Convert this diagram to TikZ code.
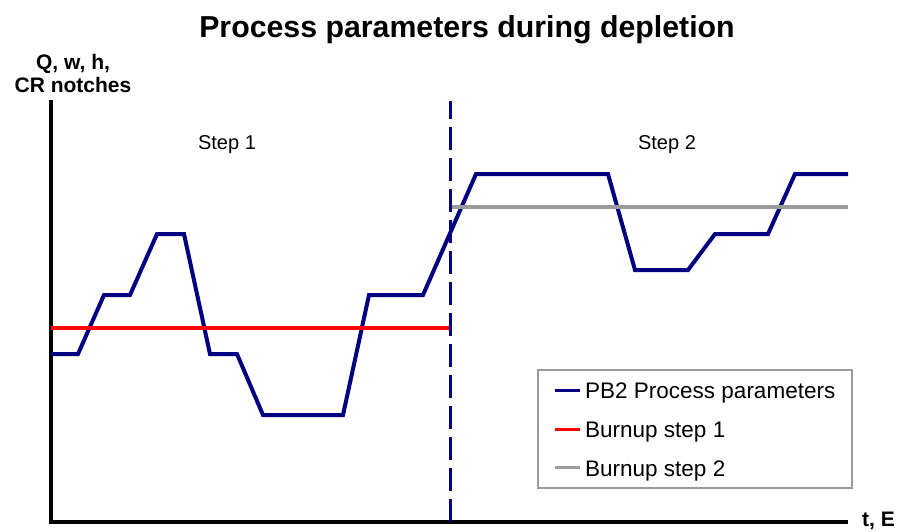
\documentclass[tikz,border=0pt]{standalone}
\usepackage{fontspec}
\setmainfont{Liberation Sans}
\definecolor{pbblue}{RGB}{0,0,128}
\definecolor{bugray}{RGB}{155,155,155}
\tikzset{
  axisline/.style={line width=3.5pt, black},
  paramline/.style={line width=4pt, color=pbblue},
  burnupone/.style={line width=3.5pt, color=red},
  burnuptwo/.style={line width=3.5pt, color=bugray},
  splitline/.style={line width=3pt, color=pbblue, dash pattern=on 23pt off 8pt},
  steplabel/.style={inner sep=0pt, font=\fontsize{20}{24}\selectfont},
  keytext/.style={inner sep=0pt, anchor=base west, font=\fontsize{22.5}{26}\selectfont},
  keyline/.style={line width=3pt}
}

\begin{document}
\begin{tikzpicture}[x=1pt,y=-1pt]
\useasboundingbox (0,0) rectangle (898,531);

% title and axis labels
\node[inner sep=0pt, anchor=base, font=\fontsize{30.3}{36}\selectfont\bfseries] (title) at (467,37) {Process parameters during depletion};
\node[inner sep=0pt, anchor=north, align=center, font=\fontsize{21}{23}\selectfont\bfseries] (ylabel) at (73,54) {Q, w, h,\\CR notches};
\node[inner sep=0pt, anchor=west, font=\fontsize{21}{24}\selectfont\bfseries] (xlabel) at (862,521) {t, E};

% axes
\coordinate (ytop) at (51,100);
\coordinate (O) at (51,522);
\coordinate (xend) at (848,522);
\draw[axisline] (ytop) -- (O) -- (xend);

% process parameters
\draw[paramline] (51,354) -- (78,354) -- (104,295) -- (130,295) -- (157,234) -- (184,234)
  -- (210,354) -- (237,354) -- (263,415) -- (343,415) -- (369,295) -- (423,295)
  -- (476,174) -- (608,174) -- (635,270) -- (688,270) -- (715,234) -- (768,234)
  -- (795,174) -- (848,174);

% burnup steps
\coordinate (s1a) at (51,328);
\coordinate (s1b) at (450,328);
\coordinate (s2a) at (450,207);
\coordinate (s2b) at (848,207);
\draw[burnupone] (s1a) -- (s1b);
\draw[burnuptwo] (s2a) -- (s2b);

% step boundary
\coordinate (cutlow) at (450,522);
\coordinate (cuttop) at (450,101);
\draw[splitline] (cutlow) -- (cuttop);

\node[steplabel, anchor=base] (step1) at (227,149) {Step 1};
\node[steplabel, anchor=base] (step2) at (667,149) {Step 2};

% legend
\node[draw=bugray, line width=1.5pt, minimum width=314pt, minimum height=118pt, inner sep=0pt] (legend) at (695,429) {};
\node[keytext] (key1) at (585,398) {PB2 Process parameters};
\node[keytext] (key2) at (585,437) {Burnup step 1};
\node[keytext] (key3) at (585,476) {Burnup step 2};
\draw[keyline, color=pbblue] (555,390) -- (580,390);
\draw[keyline, color=red] (555,429) -- (580,429);
\draw[keyline, color=bugray] (555,467) -- (580,467);
\end{tikzpicture}
\end{document}
